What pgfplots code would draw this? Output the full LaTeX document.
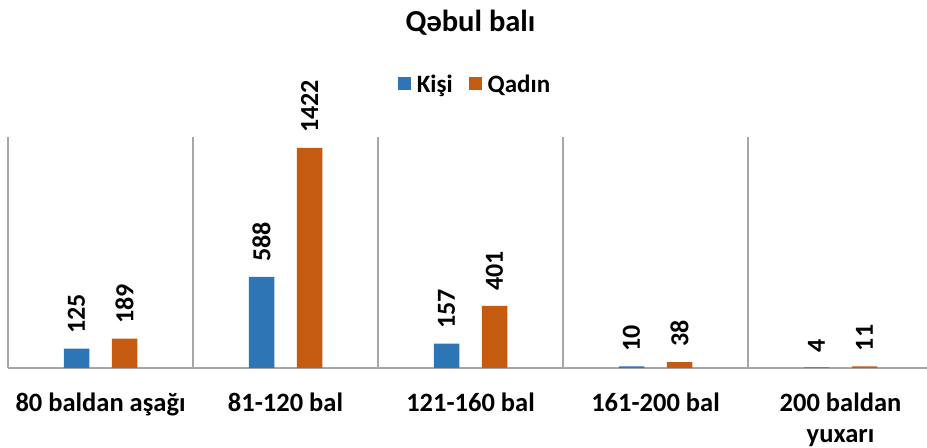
\documentclass[border=0pt]{standalone}
\usepackage{pgfplots}
\pgfplotsset{compat=1.18}
\usepackage{fontspec}
\setmainfont{Carlito}
\definecolor{kblue}{RGB}{46,117,182}
\definecolor{korange}{RGB}{197,90,17}
\definecolor{gridgray}{RGB}{166,166,166}
\begin{document}
\begin{tikzpicture}
\begin{axis}[
  at={(8bp,80bp)}, anchor=south west,
  scale only axis, width=925bp, height=231bp,
  xmin=-0.5, xmax=4.5, ymin=0, ymax=1492,
  ybar, bar width=25.5bp,
  axis x line*=bottom, axis y line*=left,
  x axis line style={gridgray, line width=1.2bp, -},
  y axis line style={draw=none},
  ytick=\empty,
  xtick={0,1,2,3,4},
  xticklabels={80 baldan aşağı, 81-120 bal, 121-160 bal, 161-200 bal, {\begin{tabular}[t]{@{}c@{}}200 baldan\\yuxarı\end{tabular}}},
  major tick length=0pt,
  minor xtick={-0.5,0.5,1.5,2.5,3.5,4.5},
  xminorgrids=true,
  minor tick length=0pt,
  minor grid style={gridgray, line width=1.2bp},
  xticklabel style={font=\fontsize{26.5bp}{31.5bp}\selectfont\bfseries, anchor=base, yshift=-43bp},
  nodes near coords={\pgfmathprintnumber[assume math mode=true,1000 sep={},fixed,precision=0]{\pgfplotspointmeta}},
  every node near coord/.append style={rotate=90, anchor=west, font=\fontsize{26bp}{30bp}\selectfont\bfseries, inner xsep=15bp, inner ysep=0pt, black},
  title={Qəbul balı},
  title style={at={(0.5,1)}, anchor=base, yshift=100bp, font=\fontsize{30.5bp}{36bp}\selectfont\bfseries},
  legend style={at={(0.5,1)}, anchor=center, xshift=4.5bp, yshift=53bp, draw=none, fill=none, font=\fontsize{25bp}{30bp}\selectfont\bfseries, legend columns=2, /tikz/every even column/.append style={column sep=14bp}},
  legend image code/.code={\fill[#1] (0bp,-6.5bp) rectangle (13bp,6.5bp); \path (0bp,0bp) -- (17bp,0bp);},
]
\addplot[fill=kblue, draw=none, bar shift=-24bp] coordinates {(0,125) (1,588) (2,157) (3,10) (4,4)};
\addplot[fill=korange, draw=none, bar shift=24bp] coordinates {(0,189) (1,1422) (2,401) (3,38) (4,11)};
\legend{Kişi, Qadın}
\end{axis}
\pgfresetboundingbox
\useasboundingbox (0,0) rectangle (927bp,448bp);
\end{tikzpicture}
\end{document}
